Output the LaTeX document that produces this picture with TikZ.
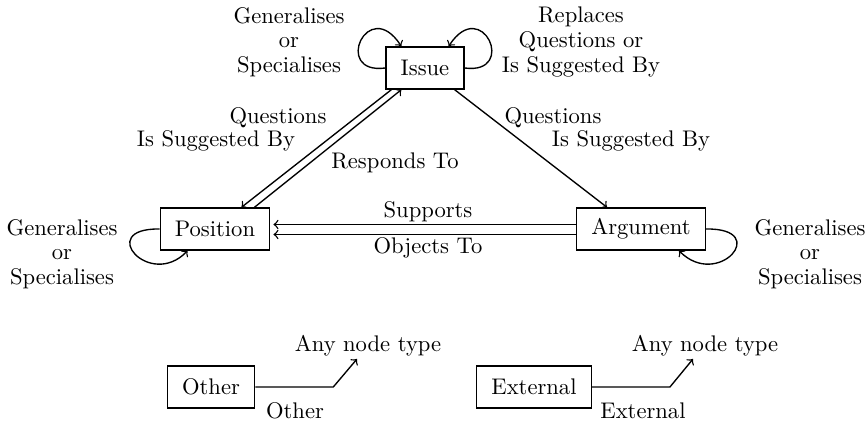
\documentclass[tikz,border=0pt]{standalone}
\usetikzlibrary{calc}
\begin{document}
\begin{tikzpicture}[x=0.4425pt,y=-0.4425pt,
  line width=0.6pt,
  box/.style={draw, minimum height=18.6pt, inner xsep=6.5pt, inner ysep=0pt},
  lbl/.style={inner sep=0pt, align=center, font=\fontsize{10}{10.9}\selectfont},
  arr/.style={->}]
\useasboundingbox (0,0) rectangle (866,424);

% element nodes
\node[box] (iss) at (425,68) {Issue};
\node[box] (pos) at (215,229) {Position};
\node[box] (arg) at (641,229) {Argument};
\node[box] (oth) at (211,387) {Other};
\node[box] (ext) at (534,387) {External};

% self loops
\draw[arr] (iss.west) .. controls (332,75) and (368,-5) .. ($(iss.north west)+(16,0)$);
\draw[arr] (iss.east) .. controls (518,75) and (482,-5) .. ($(iss.north east)+(-16,0)$);
\draw[arr] (pos.west) .. controls (95,228) and (150,290) .. ($(pos.south west)+(28,0)$);
\draw[arr] (arg.east) .. controls (772,228) and (718,290) .. ($(arg.south east)+(-27,0)$);

% issue -- position (double)
\draw[arr] ($(iss.south west)+(6,0)$) -- ($(pos.north east)+(-29,0)$);
\draw[arr] ($(pos.north east)+(-16,0)$) -- ($(iss.south west)+(16,0)$);
% issue -> argument
\draw[arr] ($(iss.south east)+(-10,0)$) -- ($(arg.north west)+(31,0)$);
% argument -> position (double)
\draw[arr] ($(arg.west)+(0,-4.5)$) -- ($(pos.east)+(3,-4.5)$);
\draw[arr] ($(arg.west)+(0,5.5)$) -- ($(pos.east)+(3,5.5)$);

% links to any node type
\coordinate (oa) at (357,359);
\coordinate (ea) at (693,359);
\draw[arr] (oth.east) -- ++(78,0) -- (oa);
\draw[arr] (ext.east) -- ++(78,0) -- (ea);

% labels
\node[lbl] (lgi) at (289,42) {Generalises\\or\\Specialises};
\node[lbl] (lri) at (581,42) {Replaces\\Questions or\\Is Suggested By};
\node[lbl] (lgp) at (62,254) {Generalises\\or\\Specialises};
\node[lbl] (lga) at (810,254) {Generalises\\or\\Specialises};
\node[lbl] (lq1) at (278,118) {Questions};
\node[lbl] (ls1) at (216,141) {Is Suggested By};
\node[lbl] (lq2) at (553,118) {Questions};
\node[lbl] (ls2) at (631,141) {Is Suggested By};
\node[lbl] (lrt) at (395,163) {Responds To};
\node[lbl] (lsu) at (428,212) {Supports};
\node[lbl] (lob) at (428,248) {Objects To};
\node[lbl] (lan1) at (368,346) {Any node type};
\node[lbl] (lan2) at (705,346) {Any node type};
\node[lbl] (lot) at (295,411) {Other};
\node[lbl] (lex) at (643,411) {External};
\end{tikzpicture}
\end{document}
